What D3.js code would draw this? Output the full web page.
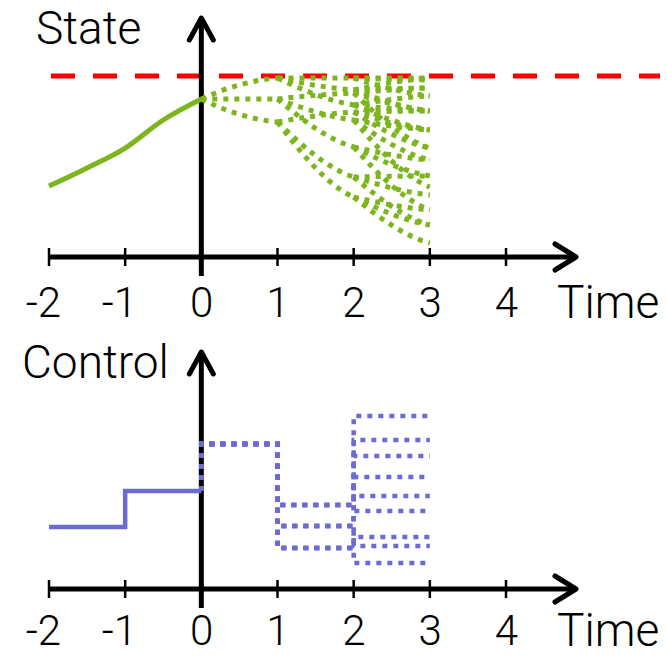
<!DOCTYPE html>
<html>
<head>
<meta charset="utf-8">
<script src="https://cdn.jsdelivr.net/npm/d3@7"></script>
<style>
  html, body { margin: 0; padding: 0; background: #fff; }
  svg { display: block; }
</style>
</head>
<body>
<script>
// ---- data ----
const tickValues = [-2, -1, 0, 1, 2, 3, 4];
const tickLabels = ["-2", "-1", "0", "1", "2", "3", "4"];

// measured state history (t <= 0)
const stateHistT = [-2, -1.5, -1, -0.5, 0];
const stateHist  = [0.392, 0.492, 0.602, 0.757, 0.873];
const stateLimit = 1.0;

// predicted state scenario tree: 3 branches per stage
const stateT1 = [0.989, 0.873, 0.746];
const stateT2 = [
  [0.989, 0.923, 0.840],
  [0.906, 0.757, 0.608],
  [0.801, 0.442, 0.331]
];
const stateT3 = [
  [[0.989, 0.978, 0.890], [0.989, 0.934, 0.807], [0.890, 0.807, 0.702]],
  [[0.934, 0.807, 0.602], [0.702, 0.536, 0.387], [0.536, 0.448, 0.260]],
  [[0.807, 0.702, 0.602], [0.448, 0.343, 0.177], [0.260, 0.177, 0.077]]
];

// applied control history, piecewise constant on [-2,-1] and [-1,0]
const controlHistT = [-2, -1, 0];
const controlHist  = [0.31, 0.49];
// planned control tree
const controlT0 = 0.725;
const controlT1 = [0.42, 0.315, 0.205];
const controlT2 = [
  [0.865, 0.665, 0.465],
  [0.745, 0.39, 0.215],
  [0.56, 0.26, 0.13]
];

// ---- layout ----
const W = 667, H = 656;
const FONT = "Roboto, 'Open Sans', sans-serif";
const GREEN = "#7db51e", BLUE = "#6b6bd2", RED = "#ff0000";

const svg = d3.select("body").append("svg").attr("width", W).attr("height", H);

const x = d3.scaleLinear().domain([-2, 4]).range([49, 506]);
const yState = d3.scaleLinear().domain([0, 1]).range([257, 76]);
const yCtrl  = d3.scaleLinear().domain([0, 1]).range([589, 389]);

const axisX0 = x(0);

function drawAxes(g, axisY, topY, yTitle, titleX, titleY, labelDy) {
  // vertical axis
  g.append("line")
    .attr("x1", axisX0).attr("x2", axisX0)
    .attr("y1", axisY + 19).attr("y2", topY + 2)
    .attr("stroke", "#000").attr("stroke-width", 5);
  g.append("path")
    .attr("d", `M${axisX0 - 12},${topY + 22} L${axisX0},${topY} L${axisX0 + 12},${topY + 22}`)
    .attr("fill", "none").attr("stroke", "#000").attr("stroke-width", 5)
    .attr("stroke-linejoin", "round").attr("stroke-linecap", "round");
  // horizontal axis
  const tipX = 576;
  g.append("line")
    .attr("x1", x(-2)).attr("x2", tipX - 2)
    .attr("y1", axisY).attr("y2", axisY)
    .attr("stroke", "#000").attr("stroke-width", 5);
  g.append("path")
    .attr("d", `M${tipX - 21},${axisY - 13} L${tipX},${axisY} L${tipX - 21},${axisY + 13}`)
    .attr("fill", "none").attr("stroke", "#000").attr("stroke-width", 5)
    .attr("stroke-linejoin", "round").attr("stroke-linecap", "round");
  // ticks
  g.selectAll("line.tick").data(tickValues).join("line")
    .attr("class", "tick")
    .attr("x1", d => x(d)).attr("x2", d => x(d))
    .attr("y1", axisY - 9).attr("y2", axisY + 9)
    .attr("stroke", "#000").attr("stroke-width", 2.5);
  g.selectAll("text.tl").data(tickValues).join("text")
    .attr("class", "tl")
    .attr("x", d => x(d) + 12).attr("y", axisY + labelDy)
    .attr("text-anchor", "end")
    .attr("font-family", FONT).attr("font-weight", 300).attr("font-size", 42)
    .attr("fill", "#000")
    .text((d, i) => tickLabels[i]);
  g.append("text")
    .attr("x", 557).attr("y", axisY + labelDy + 1)
    .attr("font-family", FONT).attr("font-weight", 300).attr("font-size", 46)
    .attr("fill", "#000").text("Time");
  g.append("text")
    .attr("x", titleX).attr("y", titleY)
    .attr("font-family", FONT).attr("font-weight", 300).attr("font-size", 46)
    .attr("fill", "#000").text(yTitle);
}

// ---- State panel ----
const gs = svg.append("g");
gs.append("line")
  .attr("x1", x(-2) + 2).attr("x2", 660)
  .attr("y1", yState(stateLimit)).attr("y2", yState(stateLimit))
  .attr("stroke", RED).attr("stroke-width", 5)
  .attr("stroke-dasharray", "24,18");

drawAxes(gs, yState(0), 18, "State", 36, 44, 60);

const stateLine = d3.line()
  .x(d => x(d[0])).y(d => yState(d[1]))
  .curve(d3.curveMonotoneX);

gs.append("path")
  .attr("d", stateLine(stateHistT.map((t, i) => [t, stateHist[i]])))
  .attr("fill", "none").attr("stroke", GREEN).attr("stroke-width", 5);

// tree edges: each edge leaves its node fairly steeply and eases toward the child value
const v0 = stateHist[stateHist.length - 1];
const edges = [];
stateT1.forEach((v1, i) => {
  edges.push({ t: 0, a: v0, b: v1 });
  stateT2[i].forEach((v2, j) => {
    edges.push({ t: 1, a: v1, b: v2 });
    stateT3[i][j].forEach(v3 => edges.push({ t: 2, a: v2, b: v3 }));
  });
});
function edgePath(e) {
  const p = d3.path();
  const d = e.b - e.a;
  const k1 = e.t === 0 ? 0.55 : 0.45, k2 = e.t === 0 ? 0.9 : 0.85;
  p.moveTo(x(e.t), yState(e.a));
  p.bezierCurveTo(
    x(e.t + 1 / 3), yState(e.a + k1 * d),
    x(e.t + 2 / 3), yState(e.a + k2 * d),
    x(e.t + 1), yState(e.b));
  return p.toString();
}
gs.selectAll("path.branch").data(edges).join("path")
  .attr("class", "branch")
  .attr("d", edgePath)
  .attr("fill", "none").attr("stroke", GREEN).attr("stroke-width", 5)
  .attr("stroke-dasharray", "5,6");

// ---- Control panel ----
const gc = svg.append("g");
drawAxes(gc, yCtrl(0), 352, "Control", 22, 378, 56);

const ctrlLine = d3.line()
  .x(d => x(d[0])).y(d => yCtrl(d[1]))
  .curve(d3.curveStepAfter);

const histPts = controlHist.map((v, i) => [controlHistT[i], v]);
histPts.push([controlHistT[controlHistT.length - 1], controlHist[controlHist.length - 1]]);
gc.append("path")
  .attr("d", ctrlLine(histPts))
  .attr("fill", "none").attr("stroke", BLUE).attr("stroke-width", 4.5);

const c0 = controlHist[controlHist.length - 1];
const ctrlPaths = [];
controlT1.forEach((c1, i) => {
  controlT2[i].forEach(c2 => {
    ctrlPaths.push([[0, c0], [0, controlT0], [1, c1], [2, c2], [3, c2]]);
  });
});
gc.selectAll("path.plan").data(ctrlPaths).join("path")
  .attr("class", "plan")
  .attr("d", ctrlLine)
  .attr("fill", "none").attr("stroke", BLUE).attr("stroke-width", 4.5)
  .attr("stroke-dasharray", "5,6");
</script>
</body>
</html>
